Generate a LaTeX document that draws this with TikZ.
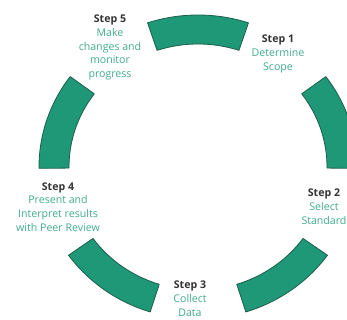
\documentclass[tikz,border=0pt]{standalone}
\usepackage{fontspec}
\setmainfont{Open Sans}
\usepackage{tikz}
\definecolor{ringgreen}{HTML}{1F9878}
\definecolor{ringedge}{HTML}{1C5E4B}
\definecolor{labelgreen}{HTML}{40AB8C}
\definecolor{labelgray}{HTML}{333333}

\begin{document}
\begin{tikzpicture}[x=1pt,y=1pt]
  \tikzstyle{segment}=[fill=ringgreen, draw=ringedge, line width=0.8pt, line join=round]
  \tikzstyle{etape}=[align=center, inner sep=0pt, text=labelgreen,
                     font=\fontsize{10.6}{13.8}\selectfont]
  \useasboundingbox (0,0) rectangle (347,320);
  \clip (0,0) rectangle (347,320);
  % ring of five segments
  \begin{scope}[shift={(198,153)}]
    \foreach \a in {90,18,-54,-126,162}
      \draw[segment] (\a-18.5:159 and 152)
        arc[start angle=\a-18.5, end angle=\a+18.5, x radius=159, y radius=152]
        -- (\a+18.5:129 and 123)
        arc[start angle=\a+18.5, end angle=\a-18.5, x radius=129, y radius=123]
        -- cycle;
  \end{scope}
  % labels
  \node[etape] (s1) at (278,266) {{\color{labelgray}\bfseries Step 1}\\Determine\\Scope};
  \node[etape] (s2) at (324,113) {{\color{labelgray}\bfseries Step 2}\\Select\\Standard};
  \node[etape] (s3) at (190,21) {{\color{labelgray}\bfseries Step 3}\\Collect\\Data};
  \node[etape] (s4) at (58,113) {{\color{labelgray}\bfseries Step 4}\\Present and\\Interpret results\\with Peer Review};
  \node[etape] (s5) at (110,272.5) {{\color{labelgray}\bfseries Step 5}\\Make\\changes and\\monitor\\progress};
\end{tikzpicture}
\end{document}
